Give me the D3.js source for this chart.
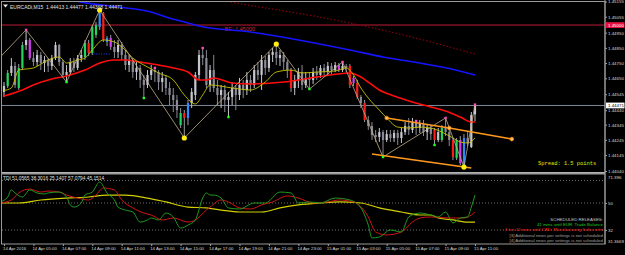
<!DOCTYPE html>
<html>
<head>
<meta charset="utf-8">
<script src="https://cdn.jsdelivr.net/npm/d3@7"></script>
<style>
  body { margin: 0; background: #000; }
  svg { display: block; }
</style>
</head>
<body>
<svg id="chart"></svg>
<script>
// EURCADi M15, 14 Apr 03:00 .. 15 Apr 11:00, one row per bar: open, high, low, close
const ohlc = [
  [1.44560,1.44625,1.44527,1.44599],[1.44599,1.44704,1.44586,1.44685],[1.44685,1.44783,1.44665,1.44731],
  [1.44731,1.44757,1.44586,1.44606],[1.44586,1.44744,1.44573,1.44718],[1.44718,1.44889,1.44704,1.44869],
  [1.44869,1.44968,1.44836,1.44902],[1.44902,1.44915,1.44770,1.44783],[1.44783,1.44823,1.44731,1.44757],
  [1.44757,1.44836,1.44731,1.44803],[1.44803,1.44823,1.44704,1.44750],[1.44750,1.44797,1.44691,1.44770],
  [1.44770,1.44783,1.44691,1.44731],[1.44731,1.44803,1.44704,1.44783],[1.44783,1.44889,1.44770,1.44869],
  [1.44869,1.44875,1.44731,1.44757],[1.44757,1.44770,1.44652,1.44672],[1.44672,1.44737,1.44625,1.44691],
  [1.44691,1.44783,1.44678,1.44757],[1.44757,1.44783,1.44691,1.44718],[1.44718,1.44803,1.44704,1.44783],
  [1.44783,1.44836,1.44757,1.44803],[1.44790,1.44902,1.44770,1.44882],[1.44882,1.44902,1.44797,1.44816],
  [1.44816,1.45000,1.44803,1.44987],[1.44935,1.45020,1.44915,1.45000],[1.44987,1.45099,1.44968,1.45079],
  [1.45079,1.45086,1.44889,1.44902],[1.44889,1.44928,1.44862,1.44915],[1.44915,1.44935,1.44836,1.44856],
  [1.44856,1.44902,1.44783,1.44823],[1.44823,1.44902,1.44783,1.44869],[1.44869,1.44889,1.44770,1.44803],
  [1.44803,1.44836,1.44704,1.44737],[1.44737,1.44803,1.44691,1.44770],[1.44770,1.44783,1.44652,1.44691],
  [1.44691,1.44757,1.44639,1.44718],[1.44718,1.44737,1.44586,1.44639],[1.44639,1.44672,1.44520,1.44606],
  [1.44606,1.44704,1.44586,1.44672],[1.44672,1.44737,1.44639,1.44704],[1.44704,1.44718,1.44625,1.44691],
  [1.44691,1.44704,1.44573,1.44625],[1.44625,1.44691,1.44560,1.44652],[1.44652,1.44672,1.44540,1.44586],
  [1.44586,1.44625,1.44474,1.44540],[1.44540,1.44586,1.44428,1.44507],[1.44507,1.44540,1.44389,1.44441],
  [1.44342,1.44454,1.44323,1.44421],[1.44421,1.44441,1.44257,1.44389],[1.44389,1.44507,1.44342,1.44487],
  [1.44487,1.44586,1.44454,1.44560],[1.44540,1.44691,1.44507,1.44672],[1.44672,1.44836,1.44639,1.44803],
  [1.44803,1.44849,1.44737,1.44783],[1.44783,1.44836,1.44586,1.44606],[1.44606,1.44737,1.44560,1.44704],
  [1.44704,1.44803,1.44560,1.44586],[1.44586,1.44639,1.44474,1.44540],[1.44540,1.44606,1.44454,1.44573],
  [1.44573,1.44606,1.44428,1.44507],[1.44507,1.44560,1.44395,1.44527],[1.44527,1.44625,1.44474,1.44586],
  [1.44586,1.44606,1.44441,1.44540],[1.44540,1.44652,1.44507,1.44606],[1.44606,1.44639,1.44520,1.44573],
  [1.44573,1.44691,1.44540,1.44639],[1.44639,1.44672,1.44560,1.44606],[1.44606,1.44737,1.44586,1.44704],
  [1.44704,1.44757,1.44639,1.44672],[1.44672,1.44803,1.44573,1.44770],[1.44770,1.44797,1.44672,1.44718],
  [1.44718,1.44823,1.44691,1.44803],[1.44803,1.44849,1.44757,1.44823],[1.44823,1.44875,1.44737,1.44783],
  [1.44783,1.44836,1.44731,1.44803],[1.44803,1.44823,1.44704,1.44757],[1.44757,1.44770,1.44652,1.44704],
  [1.44704,1.44718,1.44560,1.44586],[1.44586,1.44672,1.44540,1.44639],[1.44639,1.44718,1.44586,1.44691],
  [1.44691,1.44737,1.44573,1.44606],[1.44606,1.44691,1.44586,1.44652],[1.44652,1.44691,1.44579,1.44639],
  [1.44639,1.44718,1.44612,1.44691],[1.44691,1.44731,1.44639,1.44672],[1.44672,1.44737,1.44652,1.44718],
  [1.44718,1.44744,1.44665,1.44691],[1.44691,1.44757,1.44672,1.44731],[1.44731,1.44750,1.44678,1.44704],
  [1.44704,1.44757,1.44691,1.44737],[1.44737,1.44750,1.44691,1.44704],[1.44704,1.44757,1.44691,1.44731],
  [1.44731,1.44744,1.44691,1.44718],[1.44731,1.44744,1.44586,1.44606],[1.44652,1.44665,1.44599,1.44619],
  [1.44619,1.44639,1.44514,1.44527],[1.44527,1.44540,1.44454,1.44487],[1.44487,1.44507,1.44362,1.44375],
  [1.44375,1.44402,1.44310,1.44336],[1.44336,1.44362,1.44244,1.44277],[1.44277,1.44310,1.44231,1.44264],
  [1.44264,1.44323,1.44231,1.44296],[1.44296,1.44310,1.44132,1.44244],[1.44244,1.44310,1.44231,1.44283],
  [1.44283,1.44310,1.44231,1.44257],[1.44257,1.44310,1.44231,1.44290],[1.44290,1.44310,1.44211,1.44257],
  [1.44257,1.44323,1.44224,1.44296],[1.44296,1.44362,1.44277,1.44336],[1.44336,1.44389,1.44277,1.44310],
  [1.44310,1.44389,1.44290,1.44362],[1.44362,1.44369,1.44277,1.44323],[1.44323,1.44375,1.44290,1.44349],
  [1.44349,1.44375,1.44270,1.44296],[1.44296,1.44349,1.44244,1.44323],[1.44323,1.44342,1.44244,1.44283],
  [1.44310,1.44323,1.44211,1.44244],[1.44244,1.44323,1.44231,1.44296],[1.44244,1.44342,1.44231,1.44323],
  [1.44323,1.44389,1.44270,1.44296],[1.44296,1.44323,1.44204,1.44244],[1.44244,1.44257,1.44112,1.44132],
  [1.44125,1.44257,1.44112,1.44244],[1.44244,1.44270,1.44079,1.44092],[1.44079,1.44283,1.44066,1.44257],
  [1.44257,1.44296,1.44204,1.44224],[1.44198,1.44428,1.44191,1.44408],[1.44413,1.44477,1.44368,1.44471]
];

// bars painted by the volume colouring (bar index, kind)
const paintedBars = [
  [1,"green"],[4,"green"],[5,"green"],[7,"magenta"],[22,"green"],[23,"red"],[24,"green"],[25,"green"],
  [26,"blue"],[27,"red"],[28,"blue"],[29,"magenta"],[48,"green"],[49,"red"],[50,"blue"],[78,"red"],
  [91,"magenta"],[94,"red"],[95,"magenta"],[96,"red"],[98,"red"],[117,"red"],[119,"green"],
  [122,"red"],[123,"green"],[124,"magenta"],[125,"blue"]
];

// moving averages, [bar, price]
const maSlow = [[17,1.45172],[21,1.45151],[31,1.45119],[40,1.45086],[44,1.45053],[50,1.45014],[53,1.44994],
  [67,1.44954],[80,1.44902],[94,1.44836],[103,1.44790],[113,1.44750],[119,1.44724],[128,1.44672]];
const maMid = [[0,1.44533],[5,1.44573],[8,1.44606],[13,1.44645],[17,1.44665],[22,1.44704],[26,1.44750],
  [30,1.44770],[33,1.44770],[37,1.44757],[42,1.44737],[46,1.44718],[50,1.44691],[53,1.44639],[55,1.44639],
  [57,1.44652],[62,1.44619],[67,1.44612],[76,1.44625],[85,1.44658],[94,1.44685],[97,1.44658],[99,1.44625],
  [102,1.44573],[106,1.44533],[111,1.44494],[116,1.44461],[120,1.44435],[124,1.44395],[127,1.44362],[128,1.44362]];
const maFast = [[0,1.44570],[2,1.44586],[4,1.44704],[8,1.44718],[12,1.44770],[15,1.44790],[17,1.44750],
  [20,1.44770],[22,1.44783],[24,1.44836],[27,1.44902],[30,1.44889],[32,1.44856],[35,1.44783],[39,1.44724],
  [42,1.44685],[46,1.44639],[49,1.44540],[52,1.44481],[54,1.44540],[56,1.44606],[62,1.44586],[67,1.44573],
  [71,1.44625],[74,1.44691],[78,1.44704],[81,1.44685],[85,1.44691],[90,1.44698],[93,1.44718],[95,1.44672],
  [97,1.44586],[99,1.44520],[102,1.44441],[104,1.44389],[107,1.44329],[110,1.44323],[113,1.44329],
  [117,1.44316],[119,1.44296],[122,1.44257],[124,1.44231],[126,1.44224],[128,1.44257]];
const maDaily = [[55,1.45180],[60,1.45158],[90,1.45033],[113,1.44908],[128,1.44809]];

// zigzag swing points and the fractal marks
const zigzag = [[-1,1.44790],[6,1.44968],[17,1.44625],[26,1.45099],[49,1.44257],[74,1.44875],[83,1.44579],
  [92,1.44757],[103,1.44132],[120,1.44389],[125,1.44066],[128,1.44477]];
const majorSwings = [[26,1.45099],[49,1.44257],[74,1.44875],[125,1.44066]];
const upFractals = [[6,1.44968],[41,1.44718],[54,1.44849],[92,1.44757],[112,1.44369],[120,1.44389],[128,1.44477]];
const downFractals = [[17,1.44625],[38,1.44520],[61,1.44395],[83,1.44579],[103,1.44132],[117,1.44211]];

// channel drawn on the chart
const channelTop = [[104,1.44389],[121,1.44323],[138,1.44250]];
const channelBottom = [[100,1.44152],[127,1.44060]];
const pivotLevel = { from: 23, to: 29, price: 1.44810 };

const breakEven = 1.45000;
const bid = 1.44471;
const priceTicks = [1.45155,1.45055,1.44950,1.44850,1.44750,1.44650,1.44545,1.44440,1.44345,1.44245,1.44145,1.44040];
const timeBars = [0,8,16,24,32,40,48,56,64,72,80,88,96,104,112,120,128];
const timeLabels = ["14 Apr 2016","14 Apr 05:00","14 Apr 07:00","14 Apr 09:00","14 Apr 11:00","14 Apr 13:00",
  "14 Apr 15:00","14 Apr 17:00","14 Apr 19:00","14 Apr 21:00","14 Apr 23:00","15 Apr 01:00","15 Apr 03:00",
  "15 Apr 05:00","15 Apr 07:00","15 Apr 09:00","15 Apr 11:00"];

// TDI sub window, [bar, value]
const tdiRsi = [[-1,50.7],[1,54],[2,58.7],[3,56.7],[5,54],[7,58.7],[9,56.7],[11,56],[12,56.7],[15,57.3],[17,54],
  [18,48.7],[19,47.3],[21,50],[22,55.3],[24,57.3],[26,64],[28,56.7],[30,52],[31,47.3],[33,45.3],[35,44],[37,37.3],
  [39,38.7],[40,40],[42,38.7],[44,43.3],[46,40.7],[48,33.3],[50,35.3],[52,38.7],[54,53.3],[55,56.7],[56,55.3],
  [57,55.3],[59,53.3],[61,46.7],[64,46],[68,50],[71,50],[75,57.3],[78,56.7],[80,50],[83,50.7],[86,50],[90,53.3],
  [94,52],[97,46.7],[99,35.3],[100,26.7],[102,27.3],[105,32],[108,30.7],[110,40.7],[113,43.3],[116,42],
  [118,40.7],[120,44],[122,36.7],[124,40],[126,40.7],[127,47.3],[128,55.3]];
const tdiSignal = [[-1,50],[2,52],[4,56.7],[7,59.3],[10,57.3],[12,58],[15,57.3],[17,55.3],[20,53.3],[23,52],
  [25,55.3],[27,60],[30,58.7],[32,52],[35,46.7],[38,43.3],[40,42],[43,38.7],[46,40],[50,37.3],[52,38.7],
  [55,45.3],[56,47.3],[59,52],[61,50.7],[64,46.7],[67,46],[70,48.7],[73,50.7],[77,54.7],[80,53.3],[84,50],
  [88,50.7],[91,52],[95,50.7],[99,40.7],[101,30.7],[104,28.7],[108,30.7],[111,37.3],[113,40],[116,40.7],
  [121,40],[125,40],[127,42],[128,44]];
const tdiBase = [[-1,50],[4,50],[10,52],[17,53.3],[23,54],[28,55.3],[33,55.3],[39,53.3],[44,50.7],[50,47.3],
  [55,46.7],[59,45.3],[64,44],[70,44],[75,46.7],[80,48.7],[86,50],[91,50.7],[97,50],[102,46.7],[108,44],
  [113,42],[116,42],[118,40],[122,38.7],[126,37.3],[128,37.3]];
const tdiLevels = [65, 50, 32];
const tdiMax = "71.396", tdiMin = "31.3669";

const title = "EURCADi,M15  1.44413 1.44477 1.44368 1.44471";
const tdiTitle = "TDI 51.0565 38.3016 25.1407 57.0794 45.1514";
const spreadText = "Spread: 1.5 points";
const newsLines = [
  ["SCHEDULED RELEASES:", "#c8c8c8"],
  ["41 mins until EUR: Trade Balance", "#22c822"],
  ["4 hrs 12 mins until CAD: Manufacturing Sales m/m", "#ff2020"],
  ["[3] Additional news per settings is not scheduled", "#a0a0a0"],
  ["[4] Additional news per settings is not scheduled", "#a0a0a0"]
];

const W = 625, H = 255;
const left = 2, right = 605, mainTop = 1, mainBottom = 172, indTop = 174, indBottom = 244;
const font = "'Liberation Sans', Arial, sans-serif";
const axisFont = 4.4;
const colors = { bull: "#c6c6ce", bear: "#8a8a96", green: "#1fd75a", red: "#ff1a1a", blue: "#2a8cff", magenta: "#d63cf0" };

const svg = d3.select("#chart").attr("width", W).attr("height", H);
svg.append("rect").attr("width", W).attr("height", H).attr("fill", "#000");

const defs = svg.append("defs");
defs.append("clipPath").attr("id", "clip-main").append("rect")
  .attr("x", left).attr("y", mainTop).attr("width", right - left).attr("height", mainBottom - mainTop);
defs.append("clipPath").attr("id", "clip-ind").append("rect")
  .attr("x", left).attr("y", indTop).attr("width", right - left).attr("height", indBottom - indTop);

const x = d3.scaleLinear().domain([0, ohlc.length - 1]).range([4, 475]);
const y = d3.scaleLinear().domain([1.44040, 1.45155]).range([171, 1.5]);
const yInd = d3.scaleLinear().domain([32, 50]).range([230, 203]);

const main = svg.append("g").attr("clip-path", "url(#clip-main)");

// break-even and bid lines
main.append("line").attr("x1", left).attr("x2", right)
  .attr("y1", y(breakEven)).attr("y2", y(breakEven))
  .attr("stroke", "#5e0d1a").attr("stroke-width", 2);
main.append("text").attr("x", x(60)).attr("y", y(breakEven) + 5.5)
  .attr("fill", "#c42a3c").attr("font-size", 5.5).attr("font-family", font).text("BE: 1.45000");
main.append("line").attr("x1", left).attr("x2", right)
  .attr("y1", y(bid)).attr("y2", y(bid))
  .attr("stroke", "#7c8898").attr("stroke-width", 1);

// candles
const painted = new Map(paintedBars);
const candleColor = (d, i) => colors[painted.get(i) || (d[3] >= d[0] ? "bull" : "bear")];

main.selectAll("line.wick").data(ohlc).join("line").attr("class", "wick")
  .attr("x1", (d, i) => x(i)).attr("x2", (d, i) => x(i))
  .attr("y1", d => y(d[1])).attr("y2", d => y(d[2]))
  .attr("stroke", (d, i) => painted.has(i) ? "#9a9aa4" : candleColor(d, i)).attr("stroke-width", 1);

main.selectAll("rect.body").data(ohlc).join("rect").attr("class", "body")
  .attr("x", (d, i) => x(i) - 1.1).attr("width", 2.2)
  .attr("y", d => y(Math.max(d[0], d[3])))
  .attr("height", d => Math.max(1, Math.abs(y(d[0]) - y(d[3]))))
  .attr("fill", candleColor);

// averages
const line = d3.line().x(d => x(d[0])).y(d => y(d[1])).curve(d3.curveMonotoneX);
main.append("path").attr("d", line(maDaily)).attr("fill", "none")
  .attr("stroke", "#a00010").attr("stroke-width", 1).attr("stroke-dasharray", "1.5,2");
main.append("path").attr("d", line(maSlow)).attr("fill", "none").attr("stroke", "#1414ff").attr("stroke-width", 1.6);
main.append("path").attr("d", line(maMid)).attr("fill", "none").attr("stroke", "#ff0d0d").attr("stroke-width", 1.6);
main.append("path").attr("d", line(maFast)).attr("fill", "none").attr("stroke", "#c8c400").attr("stroke-width", 0.9);

// zigzag
const straight = d3.line().x(d => x(d[0])).y(d => y(d[1]));
main.append("path").attr("d", straight(zigzag)).attr("fill", "none").attr("stroke", "#c2ae88").attr("stroke-width", 0.8);

// pivot level
main.append("line").attr("x1", x(pivotLevel.from)).attr("x2", x(pivotLevel.to))
  .attr("y1", y(pivotLevel.price)).attr("y2", y(pivotLevel.price))
  .attr("stroke", "#2040ff").attr("stroke-width", 1).attr("stroke-dasharray", "1,1.5");

// channel
main.append("path").attr("d", straight(channelTop)).attr("fill", "none").attr("stroke", "#ff9a1e").attr("stroke-width", 1.5);
main.append("path").attr("d", straight(channelBottom)).attr("fill", "none").attr("stroke", "#ff9a1e").attr("stroke-width", 1.5);
main.selectAll("circle.chan").data(channelTop).join("circle").attr("class", "chan")
  .attr("cx", d => x(d[0])).attr("cy", d => y(d[1])).attr("r", 1.8)
  .attr("fill", "#ffc070").attr("stroke", "#ff8a00").attr("stroke-width", 0.8);

// fractal marks
main.selectAll("rect.up").data(upFractals).join("rect").attr("class", "up")
  .attr("x", d => x(d[0]) - 1.2).attr("y", d => y(d[1]) - 1.2).attr("width", 2.4).attr("height", 2.4)
  .attr("fill", "#ff4fc8");
main.selectAll("rect.down").data(downFractals).join("rect").attr("class", "down")
  .attr("x", d => x(d[0]) - 1.2).attr("y", d => y(d[1]) - 1.2).attr("width", 2.4).attr("height", 2.4)
  .attr("fill", "#22ff22");
main.selectAll("circle.swing").data(majorSwings).join("circle").attr("class", "swing")
  .attr("cx", d => x(d[0])).attr("cy", d => y(d[1])).attr("r", 2.6).attr("fill", "#ffee10");

// texts in the main window
svg.append("path").attr("d", "M3,4.5 L8,4.5 L5.5,7.5 Z").attr("fill", "#e8e8e8");
svg.append("text").attr("x", 10).attr("y", 8.5).attr("fill", "#e0e0e0")
  .attr("font-size", 5).attr("font-family", font).attr("xml:space", "preserve").text(title);
svg.append("text").attr("x", 538).attr("y", 165).attr("fill", "#e6e600")
  .attr("font-size", 5.4).attr("font-family", "'Liberation Mono', 'DejaVu Sans Mono', monospace").text(spreadText);

// TDI window
const ind = svg.append("g").attr("clip-path", "url(#clip-ind)");
ind.selectAll("line.level").data(tdiLevels).join("line").attr("class", "level")
  .attr("x1", left).attr("x2", right).attr("y1", d => yInd(d)).attr("y2", d => yInd(d))
  .attr("stroke", "#8a8a8a").attr("stroke-width", 0.8).attr("stroke-dasharray", "1,2");
const indLine = d3.line().x(d => x(d[0])).y(d => yInd(d[1])).curve(d3.curveMonotoneX);
ind.append("path").attr("d", indLine(tdiBase)).attr("fill", "none").attr("stroke", "#d2d000").attr("stroke-width", 1.2);
ind.append("path").attr("d", indLine(tdiSignal)).attr("fill", "none").attr("stroke", "#d01414").attr("stroke-width", 1);
ind.append("path").attr("d", indLine(tdiRsi)).attr("fill", "none").attr("stroke", "#1f9a1f").attr("stroke-width", 1);

svg.append("text").attr("x", 3).attr("y", 179.5).attr("fill", "#e0e0e0")
  .attr("font-size", 4.8).attr("font-family", font).text(tdiTitle);

svg.selectAll("text.news").data(newsLines).join("text").attr("class", "news")
  .attr("x", 603).attr("y", (d, i) => 220.5 + i * 5.4).attr("text-anchor", "end")
  .attr("fill", d => d[1]).attr("font-size", 4.4).attr("font-family", font).text(d => d[0]);

// frames
const frame = svg.append("g").attr("fill", "none").attr("stroke", "#9a9a9a");
frame.append("rect").attr("x", 1.5).attr("y", mainTop + 0.5).attr("width", right - 1.5).attr("height", mainBottom - mainTop);
frame.append("rect").attr("x", 1.5).attr("y", indTop).attr("width", right - 1.5).attr("height", indBottom - indTop);
frame.append("line").attr("x1", 1.5).attr("x2", right).attr("y1", 173).attr("y2", 173)
  .attr("stroke", "#b8b8b8").attr("stroke-width", 1.5);

// price axis
const axisP = svg.append("g").attr("transform", `translate(${right},0)`)
  .call(d3.axisRight(y).tickValues(priceTicks).tickSize(2).tickFormat(d3.format(".5f")));
axisP.select(".domain").remove();
axisP.selectAll("line").attr("stroke", "#a0a0a0");
axisP.selectAll("text").attr("x", 3).attr("fill", "#d8d8d8").attr("font-size", axisFont).attr("font-family", font);

function priceBox(value, bg, fg) {
  svg.append("rect").attr("x", right + 1).attr("y", y(value) - 2.9).attr("width", 18.5).attr("height", 5.8).attr("fill", bg);
  svg.append("text").attr("x", right + 3).attr("y", y(value) + 1.6).attr("fill", fg)
    .attr("font-size", axisFont).attr("font-family", font).text(d3.format(".5f")(value));
}
priceBox(breakEven, "#e8103c", "#ffffff");
priceBox(bid, "#ffffff", "#000000");

// TDI axis
const axisI = svg.append("g").attr("transform", `translate(${right},0)`)
  .call(d3.axisRight(yInd).tickValues(tdiLevels.slice(1)).tickSize(2).tickFormat(d3.format("d")));
axisI.select(".domain").remove();
axisI.selectAll("line").attr("stroke", "#a0a0a0");
axisI.selectAll("text").attr("x", 3).attr("fill", "#d8d8d8").attr("font-size", axisFont).attr("font-family", font);
svg.append("text").attr("x", right + 3).attr("y", indTop + 4.5).attr("fill", "#d8d8d8")
  .attr("font-size", axisFont).attr("font-family", font).text(tdiMax);
svg.append("text").attr("x", right + 3).attr("y", indBottom - 1.5).attr("fill", "#d8d8d8")
  .attr("font-size", axisFont).attr("font-family", font).text(tdiMin);

// right border
svg.append("line").attr("x1", right).attr("x2", right).attr("y1", 0).attr("y2", indBottom)
  .attr("stroke", "#9a9a9a");

// time axis
const axisT = svg.append("g").attr("transform", `translate(0,${indBottom})`)
  .call(d3.axisBottom(x).tickValues(timeBars).tickSize(2).tickFormat((d, i) => timeLabels[i]));
axisT.select(".domain").remove();
axisT.selectAll("line").attr("stroke", "#a0a0a0");
axisT.selectAll("text").attr("text-anchor", "start").attr("x", -1.5).attr("y", 3.4)
  .attr("fill", "#d8d8d8").attr("font-size", 4.3).attr("font-family", font);
</script>
</body>
</html>
